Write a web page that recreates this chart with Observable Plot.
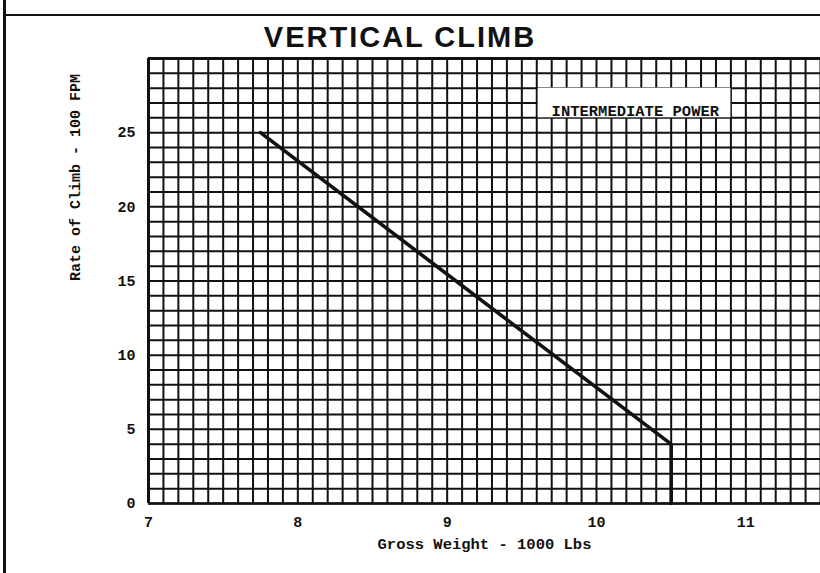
<!DOCTYPE html>
<html>
<head>
<meta charset="utf-8">
<script src="https://cdn.jsdelivr.net/npm/d3@7"></script>
<script src="https://cdn.jsdelivr.net/npm/@observablehq/plot@0.6"></script>
<style>
  html, body { margin: 0; padding: 0; background: white; }
  #wrap { position: relative; width: 820px; height: 573px; overflow: hidden; background: white; }
  #chart { position: absolute; left: 0; top: 0; }
  #leftBorder { position: absolute; left: 3px; top: 0; width: 3px; height: 573px; background: #111; }
  #titleBand { position: absolute; left: 4px; top: 14px; width: 816px; height: 44px;
    border-top: 2px solid #111; box-sizing: border-box; }
  #title { position: absolute; left: 0; top: 16px; width: 800px; text-align: center;
    font-family: "Liberation Sans", Arial, sans-serif; font-size: 29px; font-weight: bold;
    letter-spacing: 2px; line-height: 42px; color: #111; }
</style>
</head>
<body>
<div id="wrap">
  <div id="chart"></div>
  <div id="leftBorder"></div>
  <div id="titleBand"></div>
  <div id="title">VERTICAL CLIMB</div>
</div>
<script>
// Data
const grossWeight = [7.75, 10.5, 10.5];      // 1000 Lbs
const rateOfClimb = [25, 4, 0];              // 100 FPM
const xTicks = [7, 8, 9, 10, 11];
const yTicks = [0, 5, 10, 15, 20, 25];
const xGrid = d3.range(70, 116).map(d => d / 10);
const yGrid = d3.range(0, 31);
const noteLabel = ["INTERMEDIATE POWER"];
const noteX = [10.26];
const noteY = [26.45];
const noteBox = [{x1: 9.61, x2: 10.9, y1: 26.0, y2: 28.0}];

const curve = grossWeight.map((x, i) => ({x, y: rateOfClimb[i]}));
const notes = noteLabel.map((t, i) => ({t, x: noteX[i], y: noteY[i]}));

const mono = "'Liberation Mono', 'Courier New', monospace";

const plot = Plot.plot({
  width: 820,
  height: 573,
  marginTop: 58,
  marginBottom: 70,
  marginLeft: 148,
  marginRight: 0,
  style: {background: "transparent", fontFamily: mono, color: "#111"},
  x: {domain: [7, 11.5], ticks: xTicks, tickFormat: d => String(d), label: null},
  y: {domain: [0, 30], ticks: yTicks, tickFormat: d => String(d), label: null},
  marks: [
    Plot.ruleX(xGrid, {stroke: "#111", strokeWidth: 2}),
    Plot.ruleY(yGrid, {stroke: "#111", strokeWidth: 2}),
    Plot.ruleX([7], {stroke: "#111", strokeWidth: 3}),
    Plot.ruleY([0], {stroke: "#111", strokeWidth: 2.6}),
    Plot.ruleY([30], {stroke: "#111", strokeWidth: 3}),
    Plot.rect(noteBox, {x1: "x1", x2: "x2", y1: "y1", y2: "y2", fill: "white"}),
    Plot.text(notes, {x: "x", y: "y", text: "t", fontFamily: mono, fontWeight: "bold", fontSize: 15.5, fill: "#111"}),
    Plot.line(curve, {x: "x", y: "y", stroke: "#111", strokeWidth: 3.6, strokeLinejoin: "miter"}),
    Plot.axisX({ticks: xTicks, tickSize: 0, tickPadding: 13, fontSize: 15, fontWeight: "bold", fontFamily: mono, tickFormat: d => String(d), label: null}),
    Plot.axisY({ticks: yTicks, tickSize: 0, tickPadding: 13, fontSize: 15, fontWeight: "bold", fontFamily: mono, tickFormat: d => String(d), label: null}),
    Plot.text(["Gross Weight - 1000 Lbs"], {frameAnchor: "bottom", text: d => d, dy: 45, fontFamily: mono, fontWeight: "bold", fontSize: 15.5, fill: "#111"}),
    Plot.text(["Rate of Climb - 100 FPM"], {frameAnchor: "left", text: d => d, dx: -73, rotate: -90, fontFamily: mono, fontWeight: "bold", fontSize: 15, fill: "#111"})
  ]
});
document.getElementById("chart").appendChild(plot);
</script>
</body>
</html>
